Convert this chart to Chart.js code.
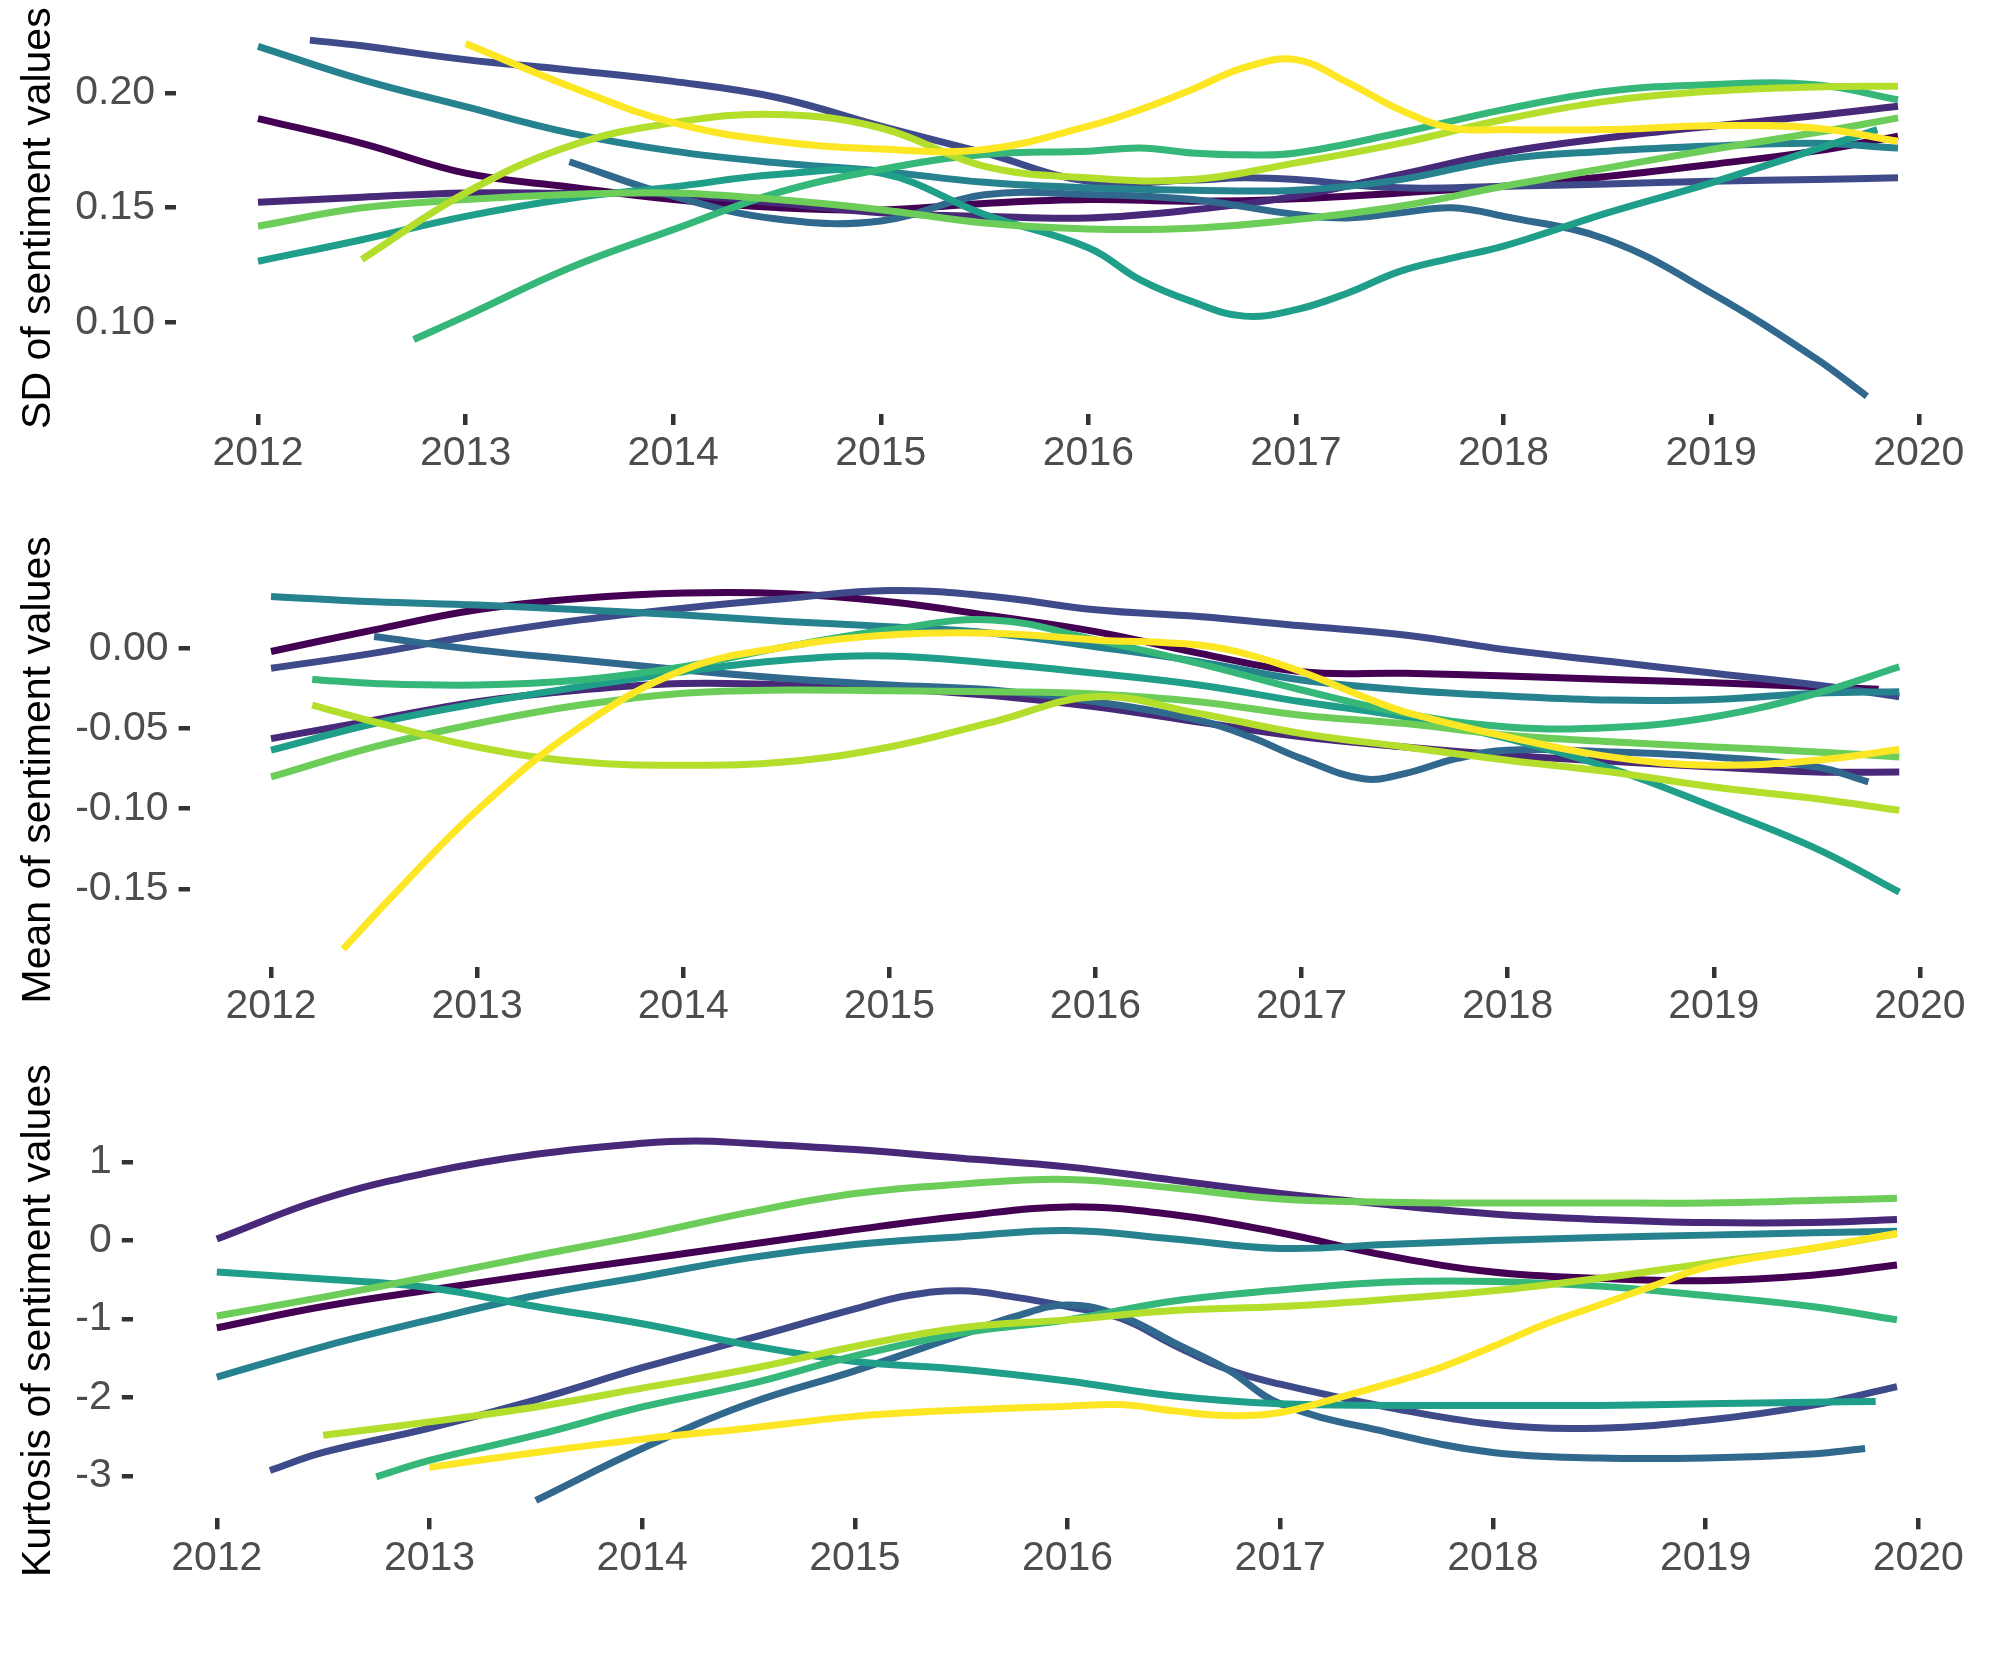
<!DOCTYPE html>
<html>
<head>
<meta charset="utf-8">
<script src="https://cdn.jsdelivr.net/npm/chart.js@4.4.1/dist/chart.umd.min.js"></script>
<style>
  html, body { margin: 0; padding: 0; background: #ffffff; }
  body { width: 2007px; height: 1653px; position: relative; overflow: hidden; }
  canvas { position: absolute; left: 0; }
</style>
</head>
<body>
<canvas id="sdChart" width="2007" height="504" style="top:0px"></canvas>
<canvas id="meanChart" width="2007" height="553" style="top:504px"></canvas>
<canvas id="kurtChart" width="2007" height="596" style="top:1057px"></canvas>
<script>
// one viridis colour per series
const seriesColors = ['#440154', '#482878', '#3E4A89', '#31688E', '#26828E', '#1F9E89', '#35B779', '#6DCD59', '#B4DE2C', '#FDE725'];

const yearTicks = [2012, 2013, 2014, 2015, 2016, 2017, 2018, 2019, 2020];
const yearLabels = ['2012', '2013', '2014', '2015', '2016', '2017', '2018', '2019', '2020'];

const n = null;

// SD panel
const sdX = [2012, 2012.25, 2012.5, 2012.75, 2013, 2013.5, 2014, 2014.5, 2015, 2015.5, 2016, 2016.25, 2016.5, 2016.75, 2017, 2017.25, 2017.5, 2017.75, 2018, 2018.5, 2019, 2019.5, 2019.75, 2019.8, 2019.9];
const sd0 = [.1888, n, .178, n, .165, .159, .1535, .150, .149, .1518, .1535, n, .1528, n, .1538, n, .1564, n, .1593, .1636, .1688, .1746, n, n, .1811];
const sd1 = [.1523, n, .1545, n, .1564, .1562, .1557, .152, .1477, .1462, .1455, n, .149, n, .155, n, .1644, n, .174, .1804, .1855, .190, n, n, .1942];
const sd2 = [n, .2230, .2205, n, .2145, .210, .205, .198, .1855, .1738, .1615, n, .162, .163, .1622, n, .1586, n, .1593, .1603, .1615, .1622, n, n, .163];
const sd3 = [n, n, n, n, n, .170, .155, .145, .1442, .1556, .1557, n, .1535, n, .147, .1455, .1477, .1499, .1462, .136, .1128, .0845, .0678, n, n];
const sd4 = [.2203, n, .2058, n, .194, .1826, .1746, .1695, .1659, .161, .1586, n, .1576, n, .1576, n, .1622, n, .171, .1746, .1768, .178, n, n, .176];
const sd5 = [.1266, n, .136, n, .1462, .154, .159, .1644, .165, .147, .1325, .1185, .109, .1027, .1055, .1128, .1222, .128, .1332, .1477, .1608, .1753, n, .184, n];
const sd6 = [n, n, n, .0925, .1027, .1237, .1404, .1564, .1666, .1731, .1746, .176, .1738, .173, .1738, n, .1826, n, .1927, .2007, .2036, .2036, n, n, .197];
const sd7 = [.1419, n, .1499, n, .1535, .1557, .1564, .1535, .1491, .1433, .1407, n, .141, n, .1448, n, .1506, n, .1593, .1673, .1753, .1826, n, n, .1891];
const sd8 = [n, n, .1274, n, .1564, .1768, .187, .1906, .1847, .168, .163, n, .1622, n, .1695, n, .178, n, .1884, .1964, .2007, .2026, n, n, .2029];
const sd9 = [n, n, n, n, .2215, .2029, .187, .1789, .1755, .1753, .1855, .1927, .2015, .211, .2145, .2045, .1927, .1847, .184, .184, .1857, .1847, n, n, .1789];
const sdTicks = [0.10, 0.15, 0.20];
const sdTickLabels = ['0.10', '0.15', '0.20'];

// Mean panel
const meanX = [2012, 2012.2, 2012.35, 2012.5, 2012.6, 2013, 2013.5, 2014, 2014.5, 2015, 2015.5, 2016, 2016.5, 2016.75, 2017, 2017.3, 2017.5, 2017.75, 2018, 2018.5, 2019, 2019.5, 2019.75, 2019.8, 2019.9];
const mean0 = [-.002, n, n, .0115, n, .024, .031, .0344, .034, .029, .0202, .0104, -.003, n, -.0146, n, -.0156, n, -.0173, -.0194, -.0215, -.024, n, -.0256, n];
const mean1 = [-.0563, n, n, -.0448, n, -.0333, -.026, -.0219, -.0229, -.025, -.0295, -.0365, -.046, n, -.0552, n, -.0615, n, -.0667, -.0705, -.074, -.0771, n, n, -.0771];
const mean2 = [-.0125, n, n, -.003, n, .0083, .0177, .025, .031, .036, .0323, .024, .0198, n, .014, n, .0083, n, -.001, -.0083, -.0156, -.0229, n, n, -.0302];
const mean3 = [n, n, n, .0073, n, -.001, -.0073, -.0135, -.0188, -.0229, -.026, -.0333, -.0448, -.0552, -.0688, -.0813, -.0781, -.0688, -.0635, -.0646, -.0677, -.074, -.0833, n, n];
const mean4 = [.0323, n, n, .029, n, .027, .024, .0208, .0167, .0135, .0094, .001, -.0083, n, -.0198, n, -.026, n, -.0298, -.0323, -.0319, -.028, n, n, -.0271];
const mean5 = [-.0635, n, n, -.0469, n, -.0344, -.024, -.0146, -.0073, -.0048, -.0094, -.0156, -.0229, n, -.0333, n, -.0427, n, -.0563, -.0748, -.099, -.125, n, n, -.152];
const mean6 = [n, -.0194, n, -.0219, n, -.0229, -.0198, -.0115, .001, .0115, .0177, .0052, -.0094, n, -.026, n, -.0406, n, -.049, -.0494, -.0427, -.028, n, n, -.0115];
const mean7 = [-.0802, n, n, -.0615, n, -.0469, -.0354, -.028, -.026, -.0265, -.0271, -.0285, -.0333, n, -.0417, n, -.0469, n, -.0542, -.0583, -.0615, -.0646, n, n, -.0677];
const mean8 = [n, -.0354, n, -.0458, n, -.0615, -.0708, -.0729, -.0708, -.0615, -.046, -.0302, -.0406, n, -.0531, n, -.0615, n, -.0698, -.0771, -.0865, -.0938, n, n, -.101];
const mean9 = [n, n, -.1875, n, -.153, -.101, -.049, -.0135, .001, .0083, .0094, .0052, .002, -.0042, -.0146, -.0302, -.0396, n, -.0552, -.0677, -.0729, -.0698, n, n, -.0631];
const meanTicks = [-0.15, -0.10, -0.05, 0.00];
const meanTickLabels = ['-0.15', '-0.10', '-0.05', '0.00'];

// Kurtosis panel
const kurtX = [2012, 2012.25, 2012.5, 2012.75, 2013, 2013.5, 2014, 2014.25, 2014.5, 2015, 2015.25, 2015.5, 2015.75, 2016, 2016.25, 2016.5, 2016.75, 2017, 2017.25, 2017.5, 2017.75, 2018, 2018.25, 2018.5, 2018.75, 2019, 2019.5, 2019.75, 2019.8, 2019.9];
const kurt0 = [-1.11, n, -.84, n, -.63, -.43, -.24, n, -.05, .14, n, .31, n, .43, n, .33, n, .10, n, -.19, n, -.40, n, -.48, n, -.51, -.44, n, n, -.31];
const kurt1 = [.02, n, .53, n, .87, 1.1, 1.24, 1.27, 1.24, 1.16, n, 1.05, n, .94, n, .77, n, .60, n, .46, n, .34, n, .27, n, .23, .23, n, n, .27];
const kurt2 = [n, -2.93, -2.70, n, -2.39, -2.03, -1.62, n, -1.25, -.87, -.70, -.64, -.72, -.84, -.99, -1.33, -1.64, -1.83, n, -2.12, n, -2.34, n, -2.39, n, -2.29, -2.10, n, n, -1.86];
const kurt3 = [n, n, n, n, n, -3.31, -2.65, n, -2.08, -1.66, n, -1.2, -.97, -.82, -.96, -1.30, -1.64, -2.08, n, -2.44, n, -2.70, n, -2.77, n, -2.77, -2.72, -2.65, n, n];
const kurt4 = [-1.74, n, -1.35, n, -1.01, -.70, -.46, n, -.22, -.05, n, .05, n, .13, n, .02, n, -.10, n, -.05, n, 0, n, .04, n, .07, .10, n, n, .12];
const kurt5 = [-.40, n, -.49, n, -.60, -.84, -1.06, n, -1.33, -1.54, n, -1.64, n, -1.79, n, -1.98, n, -2.08, n, -2.10, n, -2.10, n, -2.10, n, -2.08, -2.06, n, -2.05, n];
const kurt6 = [n, n, n, -3.01, -2.80, -2.48, -2.12, n, -1.83, -1.47, n, -1.18, n, -1.01, n, -.77, n, -.63, n, -.53, n, -.52, n, -.58, n, -.70, -.84, n, n, -1.01];
const kurt7 = [-.96, n, -.72, n, -.46, -.19, .07, n, .36, .60, n, .72, n, .78, n, .67, n, .53, n, .49, n, .48, n, .48, n, .48, .51, n, n, .54];
const kurt8 = [n, n, -2.48, n, -2.31, -2.12, -1.88, n, -1.64, -1.35, n, -1.11, n, -1.01, n, -.89, n, -.84, n, -.75, n, -.64, n, -.48, n, -.29, -.10, n, n, .09];
const kurt9 = [n, n, n, n, -2.89, -2.70, -2.53, n, -2.39, -2.24, n, -2.16, n, -2.11, -2.09, -2.17, -2.23, -2.19, -2.02, -1.83, -1.62, -1.35, -1.06, -.82, -.58, -.34, -.10, n, n, .09];
const kurtTicks = [-3, -2, -1, 0, 1];
const kurtTickLabels = ['-3', '-2', '-1', '0', '1'];

const tickFont = { family: "'Liberation Sans', Arial, sans-serif", size: 41, lineHeight: 1 };
const titleFont = { family: "'Liberation Sans', Arial, sans-serif", size: 41, lineHeight: 1 };

// ggplot-style 5% expansion of the data range
function expand(lo, hi) {
    const pad = (hi - lo) * 0.05;
    return [lo - pad, hi + pad];
}

function drawPanel(id, xs, series, yTicks, yLabels, title, g) {
    const allY = series.flat().filter(v => v !== null);
    const [yMin, yMax] = expand(Math.min(...allY), Math.max(...allY));
    const [xMin, xMax] = expand(Math.min(...xs), Math.max(...xs));

    const datasets = series.map((vals, i) => ({
        data: xs.map((x, j) => ({ x: x, y: vals[j] })),
        borderColor: seriesColors[i],
        borderWidth: 7,
        borderCapStyle: 'butt',
        pointRadius: 0,
        tension: 0.4,
        spanGaps: true,
        fill: false,
        order: 9 - i
    }));

    const ctx = document.getElementById(id).getContext('2d');
    return new Chart(ctx, {
        type: 'line',
        data: { datasets: datasets },
        options: {
            responsive: false,
            animation: false,
            devicePixelRatio: 1,
            layout: { padding: { left: 0, right: g.padRight, top: g.padTop, bottom: g.padBottom } },
            plugins: { legend: { display: false }, tooltip: { enabled: false } },
            scales: {
                x: {
                    type: 'linear',
                    min: xMin,
                    max: xMax,
                    bounds: 'data',
                    afterBuildTicks: axis => { axis.ticks = yearTicks.map(v => ({ value: v })); },
                    afterFit: axis => { axis.height = 90; axis.paddingLeft = 0; axis.paddingRight = 0; },
                    ticks: {
                        autoSkip: false,
                        maxRotation: 0,
                        padding: 8.6,
                        color: '#4D4D4D',
                        font: tickFont,
                        callback: (v, i) => yearLabels[i]
                    },
                    grid: { drawOnChartArea: false, drawTicks: true, tickLength: 11, tickWidth: 4.5, lineWidth: 4.5, tickColor: '#333333' },
                    border: { display: false }
                },
                y: {
                    type: 'linear',
                    min: yMin,
                    max: yMax,
                    bounds: 'data',
                    afterBuildTicks: axis => { axis.ticks = yTicks.map(v => ({ value: v })); },
                    afterFit: axis => { axis.width = g.axisWidth; axis.paddingTop = 0; axis.paddingBottom = 0; },
                    ticks: {
                        padding: 10,
                        color: '#4D4D4D',
                        font: tickFont,
                        callback: (v, i) => yLabels[i]
                    },
                    grid: { drawOnChartArea: false, drawTicks: true, tickLength: 11, tickWidth: 4.5, lineWidth: 4.5, tickColor: '#333333' },
                    border: { display: false },
                    title: {
                        display: true,
                        text: title,
                        color: '#000000',
                        font: titleFont,
                        padding: { top: 18.5, bottom: 0 }
                    }
                }
            }
        }
    });
}

drawPanel('sdChart', sdX, [sd0, sd1, sd2, sd3, sd4, sd5, sd6, sd7, sd8, sd9],
    sdTicks, sdTickLabels, 'SD of sentiment values',
    { axisWidth: 176, padTop: 22.3, padBottom: 0, padRight: 27 });

drawPanel('meanChart', meanX, [mean0, mean1, mean2, mean3, mean4, mean5, mean6, mean7, mean8, mean9],
    meanTicks, meanTickLabels, 'Mean of sentiment values',
    { axisWidth: 189.6, padTop: 68.6, padBottom: 0, padRight: 26.3 });

drawPanel('kurtChart', kurtX, [kurt0, kurt1, kurt2, kurt3, kurt4, kurt5, kurt6, kurt7, kurt8, kurt9],
    kurtTicks, kurtTickLabels, 'Kurtosis of sentiment values',
    { axisWidth: 132.8, padTop: 66, padBottom: 44.7, padRight: 26 });
</script>
</body>
</html>
